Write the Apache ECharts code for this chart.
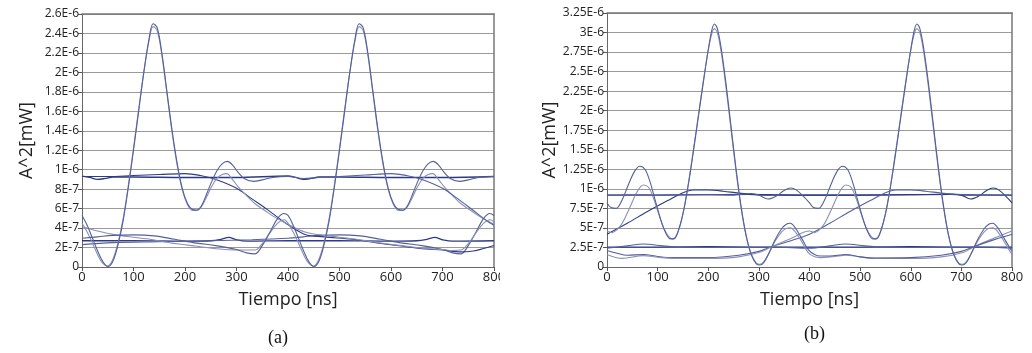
<!DOCTYPE html>
<html><head><meta charset="utf-8">
<script src="https://cdn.jsdelivr.net/npm/echarts@6/dist/echarts.min.js"></script>
<style>html,body{margin:0;padding:0;background:#fff}#c{width:1032px;height:353px}</style>
</head><body><div id="c"></div>
<script>
// ---- shared axis data ----
const xTicks = [0,100,200,300,400,500,600,700,800];
// y values are in units of 1E-7 mW
const yTicksA = [0,2,4,6,8,10,12,14,16,18,20,22,24,26];
const yTicksB = [0,2.5,5,7.5,10,12.5,15,17.5,20,22.5,25,27.5,30,32.5];

// ---- chart (a) traces: [time ns, A^2 in 1E-7 mW] ----
const a_osc1 = [[0,5.3],[10,4.3],[20,3.0],[30,1.7],[40,0.6],[50,0.05],[60,0.6],[70,2.3],[80,4.8],[90,8.2],[100,12.0],[110,16.0],[120,20.0],[130,23.4],[138,25.0],[146,24.6],[155,22.0],[165,18.0],[175,14.0],[185,10.6],[195,8.0],[205,6.5],[215,5.9],[223,5.85],[232,6.3],[242,7.5],[252,8.8],[262,9.9],[272,10.6],[282,10.85],[292,10.5],[302,9.8],[315,9.1],[333,8.8],[350,8.95],[370,9.2],[400,9.3],[430,9.1],[460,9.2],[500,9.3],[550,9.45],[600,9.6],[630,9.4],[660,9.0],[700,8.1],[730,7.0],[760,5.8],[790,4.6],[800,4.3]];
const a_osc2 = [[0,4.5],[10,3.6],[20,2.5],[30,1.3],[40,0.4],[50,0.1],[60,0.8],[70,2.5],[80,5.0],[90,8.4],[100,12.2],[110,16.2],[120,20.0],[130,23.2],[138,24.7],[146,24.3],[155,21.8],[165,17.8],[175,13.8],[185,10.4],[195,7.9],[205,6.4],[215,5.8],[223,5.8],[232,6.2],[242,7.2],[252,8.3],[262,9.1],[272,9.5],[281,9.6],[292,9.0],[303,8.25],[320,7.3],[336,6.5],[355,5.8],[375,5.1],[400,4.4],[433,3.6],[470,3.25],[525,2.9],[570,2.55],[620,2.2],[668,1.9],[700,1.8],[720,1.7],[736,1.75],[750,2.4],[765,3.5],[780,4.5],[793,4.85],[800,4.6]];
const a_decl = [[0,9.3],[50,9.3],[100,9.4],[150,9.5],[200,9.6],[230,9.4],[260,9.0],[300,8.1],[330,7.0],[360,5.9],[390,4.7],[400,4.35],[433,3.35],[470,3.1],[525,2.85],[570,2.5],[620,2.15],[668,1.85],[700,1.75],[736,1.55],[760,1.65],[780,1.9],[800,2.2]];
const a_hump1 = [[0,2.95],[30,3.1],[60,3.25],[100,3.3],[140,3.2],[180,2.85],[223,2.45],[260,2.2],[300,1.8],[320,1.45],[336,1.35],[350,2.2],[365,3.6],[380,5.0],[392,5.5],[400,5.3],[410,4.3],[420,3.0],[430,1.7],[440,0.6],[450,0.05],[460,0.6],[470,2.3],[480,4.8],[490,8.2],[500,12.0],[510,16.0],[520,20.0],[530,23.4],[538,25.0],[546,24.6],[555,22.0],[565,18.0],[575,14.0],[585,10.6],[595,8.0],[605,6.5],[615,5.9],[623,5.85],[632,6.3],[642,7.5],[652,8.8],[662,9.9],[672,10.6],[682,10.85],[692,10.5],[702,9.8],[715,9.1],[733,8.8],[750,8.95],[770,9.2],[800,9.3]];
const a_tail1 = [[0,4.14],[30,3.7],[60,3.35],[100,3.05],[125,2.9],[170,2.5],[220,2.15],[268,1.85],[300,1.75],[336,1.75],[350,2.4],[365,3.5],[380,4.5],[393,4.85],[400,4.5],[410,3.6],[420,2.5],[430,1.3],[440,0.4],[450,0.1],[460,0.8],[470,2.5],[480,5.0],[490,8.4],[500,12.2],[510,16.2],[520,20.0],[530,23.2],[538,24.7],[546,24.3],[555,21.8],[565,17.8],[575,13.8],[585,10.4],[595,7.9],[605,6.4],[615,5.8],[623,5.8],[632,6.2],[642,7.2],[652,8.3],[662,9.1],[672,9.5],[681,9.6],[692,9.0],[703,8.25],[720,7.3],[736,6.5],[755,5.8],[775,5.1],[800,4.4]];
const a_hump2 = [[0,2.3],[60,2.5],[150,2.6],[250,2.7],[330,2.8],[400,2.95],[430,3.1],[460,3.25],[500,3.3],[540,3.2],[580,2.85],[623,2.45],[660,2.2],[700,1.8],[720,1.45],[736,1.35],[750,2.2],[765,3.6],[780,5.0],[792,5.5],[800,5.3]];
const a_low = [[0,2.7],[100,2.7],[200,2.65],[250,2.7],[270,2.85],[285,3.05],[300,2.8],[320,2.65],[400,2.7],[500,2.7],[600,2.65],[650,2.7],[670,2.85],[685,3.05],[700,2.8],[720,2.65],[800,2.7]];
const a_flat = [[0,9.35],[15,9.2],[30,9.0],[45,9.1],[60,9.25],[100,9.25],[200,9.2],[300,9.2],[400,9.35],[415,9.2],[430,9.0],[445,9.1],[460,9.25],[500,9.25],[600,9.2],[700,9.2],[800,9.3]];

// ---- chart (b) traces ----
const b_osc1 = [[0,8.2],[8,7.6],[18,7.5],[30,8.6],[42,10.5],[55,12.3],[65,12.9],[75,12.5],[85,10.9],[95,8.6],[105,6.3],[115,4.5],[125,3.6],[132,3.6],[140,4.5],[150,6.8],[160,10.3],[170,14.5],[180,19.0],[190,23.5],[200,27.8],[207,30.3],[212,31.1],[218,30.5],[226,27.8],[235,23.5],[245,18.0],[255,12.5],[265,7.7],[275,4.0],[285,1.6],[295,0.4],[302,0.25],[310,0.6],[320,1.8],[332,3.5],[345,4.9],[355,5.5],[362,5.6],[372,5.0],[385,3.6],[398,2.2],[410,1.6],[421,1.4],[440,1.4],[472,1.6],[500,1.3],[530,1.15],[600,1.2],[660,1.5],[700,2.0],[725,2.6],[765,3.5],[800,4.2]];
const b_wig = [[0,9.2],[50,9.25],[100,9.2],[150,9.25],[200,9.25],[250,9.2],[285,9.4],[300,9.2],[318,8.7],[335,9.1],[350,9.8],[363,10.1],[375,9.8],[390,8.9],[400,8.2],[408,7.6],[418,7.5],[430,8.6],[442,10.5],[455,12.3],[465,12.9],[475,12.5],[485,10.9],[495,8.6],[505,6.3],[515,4.5],[525,3.6],[532,3.6],[540,4.5],[550,6.8],[560,10.3],[570,14.5],[580,19.0],[590,23.5],[600,27.8],[607,30.3],[612,31.1],[618,30.5],[626,27.8],[635,23.5],[645,18.0],[655,12.5],[665,7.7],[675,4.0],[685,1.6],[695,0.4],[702,0.25],[710,0.6],[720,1.8],[732,3.5],[745,4.9],[755,5.5],[762,5.6],[772,5.0],[785,3.6],[798,2.2],[800,2.1]];
const b_osc2 = [[0,4.6],[10,4.4],[20,4.8],[30,5.6],[45,7.6],[60,9.7],[72,10.5],[82,10.2],[92,8.8],[102,6.8],[112,5.0],[122,3.9],[130,3.6],[138,4.1],[148,6.2],[158,9.6],[168,13.8],[178,18.3],[188,22.8],[198,27.0],[206,29.6],[212,30.5],[218,30.0],[226,27.3],[235,23.0],[245,17.6],[255,12.2],[265,7.5],[275,3.9],[285,1.6],[295,0.5],[302,0.35],[310,0.7],[320,1.8],[332,3.3],[345,4.5],[355,4.95],[362,5.0],[372,4.5],[385,3.2],[398,1.8],[410,1.3],[421,1.2],[450,1.35],[472,1.5],[530,1.1],[600,1.1],[660,1.3],[705,1.9],[725,2.6],[765,3.7],[800,4.6]];
const b_rise1 = [[0,4.2],[40,5.6],[80,7.1],[120,8.5],[150,9.5],[170,9.85],[200,9.85],[230,9.7],[260,9.45],[290,9.3],[330,9.25],[400,9.2],[500,9.2],[600,9.25],[680,9.3],[700,9.2],[718,8.7],[735,9.1],[750,9.8],[763,10.1],[775,9.8],[790,8.9],[800,8.2]];
const b_rise2 = [[0,2.1],[20,1.75],[40,1.5],[72,1.6],[100,1.35],[130,1.2],[200,1.2],[260,1.5],[300,2.0],[325,2.6],[365,3.4],[400,4.2],[440,5.6],[480,7.1],[520,8.5],[550,9.5],[570,9.85],[600,9.85],[630,9.7],[660,9.45],[690,9.3],[730,9.25],[800,9.2]];
const b_osc3 = [[0,1.6],[30,1.1],[72,1.45],[100,1.25],[130,1.1],[200,1.1],[260,1.3],[305,1.95],[325,2.6],[365,3.7],[400,4.6],[410,4.4],[420,4.8],[430,5.6],[445,7.6],[460,9.7],[472,10.5],[482,10.2],[492,8.8],[502,6.8],[512,5.0],[522,3.9],[530,3.6],[538,4.1],[548,6.2],[558,9.6],[568,13.8],[578,18.3],[588,22.8],[598,27.0],[606,29.6],[612,30.5],[618,30.0],[626,27.3],[635,23.0],[645,17.6],[655,12.2],[665,7.5],[675,3.9],[685,1.6],[695,0.5],[702,0.35],[710,0.7],[720,1.8],[732,3.3],[745,4.5],[755,4.95],[762,5.0],[772,4.5],[785,3.2],[798,1.8],[800,1.7]];
const b_hump = [[0,2.4],[40,2.7],[72,2.95],[110,2.7],[160,2.5],[250,2.5],[330,2.55],[400,2.4],[440,2.7],[472,2.95],[510,2.7],[560,2.5],[650,2.5],[730,2.55],[800,2.4]];
const b_low = [[0,2.55],[100,2.55],[200,2.6],[300,2.55],[400,2.55],[500,2.55],[600,2.6],[700,2.55],[800,2.55]];
const b_flat = [[0,9.2],[100,9.2],[200,9.25],[280,9.3],[300,9.2],[400,9.2],[500,9.2],[600,9.25],[680,9.3],[700,9.2],[800,9.2]];

const DARK = '#2d3a82';
const MID = '#55609a';
const LIGHT = '#8a90b8';

function fmtA(v){ if (v === 0) return '0'; return v < 10 ? (v + 'E-7') : ((v/10) + 'E-6'); }

function line(data, color, xi, yi, w){
  return {type:'line', data:data, xAxisIndex:xi, yAxisIndex:yi, showSymbol:false, smooth:0.35,
    silent:true, animation:false, lineStyle:{color:color, width:w||1.1}};
}

const axisFont = 'Open Sans';
function xAxes(gi){
  return [
    {type:'value', gridIndex:gi, min:0, max:800, interval:100, position:'bottom',
     axisLine:{show:true, onZero:false, lineStyle:{color:'#666', width:1}},
     axisTick:{show:true, length:4, lineStyle:{color:'#555'}},
     axisLabel:{color:'#222', fontSize:13, fontFamily:axisFont, margin:4},
     splitLine:{show:false},
     name:'Tiempo [ns]', nameLocation:'middle', nameGap:24,
     nameTextStyle:{color:'#222', fontSize:18, fontFamily:axisFont}},
    {type:'value', gridIndex:gi, min:0, max:800, position:'top',
     axisLine:{show:true, onZero:false, lineStyle:{color:'#777', width:1.5}},
     axisTick:{show:false}, axisLabel:{show:false}, splitLine:{show:false}}
  ];
}
function yAxes(gi, max, interval){
  return [
    {type:'value', gridIndex:gi, min:0, max:max, interval:interval, position:'left',
     axisLine:{show:true, onZero:false, lineStyle:{color:'#666', width:1}},
     axisTick:{show:true, length:4, lineStyle:{color:'#555'}},
     axisLabel:{color:'#222', fontSize:12, fontFamily:axisFont, margin:3, formatter:fmtA},
     splitLine:{show:true, lineStyle:{color:'#9a9a9a', width:1}},
     name:'A^2[mW]', nameLocation:'middle', nameGap:46,
     nameTextStyle:{color:'#222', fontSize:18, fontFamily:axisFont}},
    {type:'value', gridIndex:gi, min:0, max:max, interval:interval, position:'right',
     axisLine:{show:true, onZero:false, lineStyle:{color:'#777', width:1.5}},
     axisTick:{show:false}, axisLabel:{show:false}, splitLine:{show:false}}
  ];
}

const chart = echarts.init(document.getElementById('c'), null, {renderer:'canvas'});
chart.setOption({
  animation:false,
  backgroundColor:'#fff',
  title:[
    {text:'(a)', left:263, top:324, textStyle:{fontFamily:'Liberation Serif', fontSize:18, fontWeight:'normal', color:'#111'}},
    {text:'(b)', left:799, top:320, textStyle:{fontFamily:'Liberation Serif', fontSize:18, fontWeight:'normal', color:'#111'}}
  ],
  grid:[
    {left:82, top:14, width:412, height:253},
    {left:607, top:13, width:405, height:254}
  ],
  xAxis: xAxes(0).concat(xAxes(1)),
  yAxis: yAxes(0, 26, 2).concat(yAxes(1, 32.5, 2.5)),
  series:[
    line(a_flat, DARK, 0, 0, 1.3),
    line(a_low, DARK, 0, 0, 1.3),
    line(a_hump2, MID, 0, 0),
    line(a_decl, DARK, 0, 0),
    line(a_tail1, LIGHT, 0, 0),
    line(a_osc2, LIGHT, 0, 0),
    line(a_osc1, MID, 0, 0),
    line(a_hump1, MID, 0, 0),
    line(b_flat, DARK, 2, 2, 1.3),
    line(b_low, DARK, 2, 2, 1.3),
    line(b_hump, MID, 2, 2),
    line(b_rise1, DARK, 2, 2),
    line(b_rise2, MID, 2, 2),
    line(b_osc2, LIGHT, 2, 2),
    line(b_osc3, LIGHT, 2, 2),
    line(b_osc1, MID, 2, 2),
    line(b_wig, MID, 2, 2)
  ],
  graphic:[
    {type:'rect', left:500, top:272, shape:{width:12, height:20}, style:{fill:'#fff'}, z:100}
  ]
});
</script>
</body></html>
